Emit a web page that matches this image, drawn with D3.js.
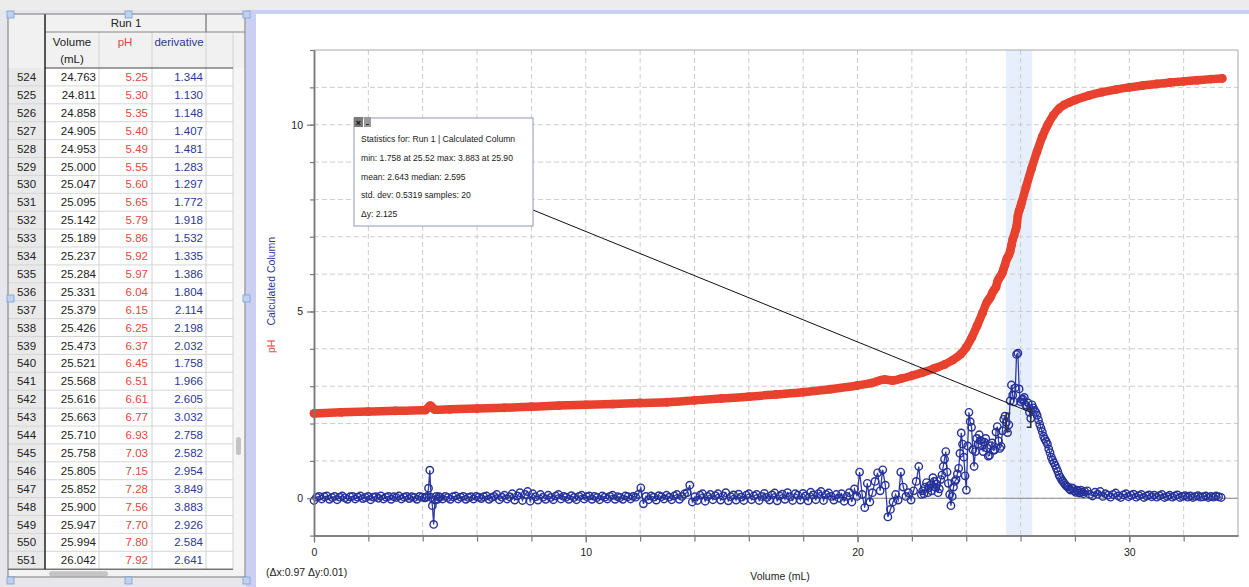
<!DOCTYPE html>
<html>
<head>
<meta charset="utf-8">
<script src="https://cdn.jsdelivr.net/npm/d3@7"></script>
<style>
  html, body { margin: 0; padding: 0; background: #ececec; }
  svg { display: block; font-family: "Liberation Sans", Arial, Helvetica, sans-serif; }
</style>
</head>
<body>
<svg id="chart" width="1249" height="587"></svg>
<script>
// ---------------- data ----------------
// Every sample is one drop: sample n sits at (n - 1) * DROP_VOLUME mL.
const DROP_VOLUME = 0.047348;

// Rows shown in the data table (Run 1)
const tableFirstRow = 524;
const tableVolume = [24.763, 24.811, 24.858, 24.905, 24.953, 25.000, 25.047, 25.095, 25.142, 25.189,
  25.237, 25.284, 25.331, 25.379, 25.426, 25.473, 25.521, 25.568, 25.616, 25.663,
  25.710, 25.758, 25.805, 25.852, 25.900, 25.947, 25.994, 26.042];
const tablePH = [5.25, 5.30, 5.35, 5.40, 5.49, 5.55, 5.60, 5.65, 5.79, 5.86,
  5.92, 5.97, 6.04, 6.15, 6.25, 6.37, 6.45, 6.51, 6.61, 6.77,
  6.93, 7.03, 7.15, 7.28, 7.56, 7.70, 7.80, 7.92];
const tableDerivative = [1.344, 1.130, 1.148, 1.407, 1.481, 1.283, 1.297, 1.772, 1.918, 1.532,
  1.335, 1.386, 1.804, 2.114, 2.198, 2.032, 1.758, 1.966, 2.605, 3.032,
  2.758, 2.582, 2.954, 3.849, 3.883, 2.926, 2.584, 2.641];

// pH before and after the tabulated rows
const phBeforeVolume = [0, 1, 2, 3, 4.1, 4.28, 4.45, 5, 6, 7, 8, 9, 10, 11, 12, 13, 14, 15, 16, 17,
  18, 19, 20, 20.5, 21.0, 21.3, 21.6, 22.0, 22.4, 22.8, 23.2, 23.5, 23.8, 24.0, 24.2, 24.4, 24.6];
const phBeforeValue = [2.27, 2.30, 2.32, 2.34, 2.36, 2.48, 2.37, 2.38, 2.40, 2.42, 2.45, 2.48, 2.50, 2.52, 2.55, 2.57, 2.62, 2.67, 2.72, 2.78,
  2.84, 2.92, 3.02, 3.08, 3.18, 3.15, 3.20, 3.28, 3.37, 3.47, 3.58, 3.70, 3.86, 4.04, 4.30, 4.62, 4.96];
const phAfterVolume = [26.2, 26.4, 26.6, 26.8, 27.0, 27.2, 27.4, 27.6, 27.8, 28.0, 28.5, 29.0, 29.5,
  30.0, 30.5, 31.0, 31.5, 32.0, 32.5, 33.0, 33.42];
const phAfterValue = [8.33, 8.82, 9.27, 9.68, 10.0, 10.25, 10.42, 10.53, 10.60, 10.66, 10.78, 10.87, 10.94,
  11.0, 11.05, 11.09, 11.13, 11.16, 11.19, 11.22, 11.24];

// Calculated Column (derivative) runs: first sample row, row stride, values
const derivLeadInRow = 1, derivLeadInStride = 2;
const derivLeadIn = [-0.06, 0.03, 0.05, -0.02, 0.04, 0.06, -0.03, 0.02, 0.05, -0.04,
  0.03, 0.06, 0.01, -0.03, 0.04, 0.05, -0.02, 0.03, 0.06, -0.01,
  0.02, 0.05, -0.04, 0.03, 0.04, 0.00, 0.06, -0.02, 0.03, 0.05,
  -0.03, 0.04, 0.02, 0.06, -0.02, 0.03, 0.05, -0.01, 0.04, 0.02,
  -0.03, 0.05, 0.03, 0.01];
const derivBlipRow = 88, derivBlipStride = 1;
const derivBlip = [0.02, 0.05, 0.27, 0.75, 0.02, -0.20, -0.70, -0.05, 0.05, -0.03, 0.04];
const derivPlateauRow = 99, derivPlateauStride = 2;
const derivPlateau = [0.03, -0.02, 0.05, 0.02, -0.03, 0.04, 0.06, -0.02, 0.03, 0.05,
  -0.03, 0.02, 0.04, -0.02, 0.05, 0.03, -0.01, 0.04, 0.06, -0.03,
  0.02, 0.05, 0.10, -0.04, 0.03, 0.08, -0.02, 0.04, 0.12, -0.05,
  0.06, 0.15, -0.06, 0.10, 0.18, -0.08, 0.12, 0.04, -0.05, 0.10,
  0.03, -0.03, 0.08, 0.02, -0.04, 0.06, 0.10, -0.02, 0.05, 0.03,
  -0.03, 0.07, 0.02, -0.04, 0.05, 0.08, -0.02, 0.04, 0.06, -0.03,
  0.05, 0.02, -0.04, 0.06, 0.03, -0.02, 0.05, 0.08, -0.03, 0.04,
  0.02, -0.03, 0.06, 0.04, -0.02, 0.05, 0.03, 0.10, 0.28, -0.15,
  0.05, -0.04, 0.06, 0.03, -0.05, 0.07, 0.04, -0.02, 0.08, 0.03,
  -0.04, 0.06, 0.10, -0.03, 0.05, 0.12, 0.15, 0.35, -0.10, 0.04,
  -0.06, 0.08, 0.12, -0.08, 0.05, 0.10, -0.04, 0.07, 0.12, -0.05,
  0.06, 0.15, -0.07, 0.04, 0.09, -0.05, 0.11, 0.03, -0.06, 0.08,
  0.12, -0.04, 0.06, 0.10, -0.06, 0.05, 0.13, 0.02, -0.05, 0.09,
  0.14, -0.07, 0.06, 0.11, -0.03, 0.15, 0.04, -0.06, 0.12, 0.08,
  -0.05, 0.13, 0.06, -0.07, 0.16, 0.09, -0.04, 0.12, 0.18, -0.06, 0.10, 0.14];
const derivOnsetRow = 403, derivOnsetStride = 2;
const derivOnset = [0.05, -0.05, 0.10, 0.00, 0.12, -0.08, 0.05, 0.15, -0.10, 0.25,
  0.05, 0.70, 0.10, -0.25, 0.40, -0.10, 0.15, 0.45, 0.68, 0.20,
  0.76, 0.35, -0.50, -0.30, -0.10, 0.10, -0.05, 0.70, 0.30, 0.05,
  0.15, -0.05, 0.20, 0.45, 0.85, 0.10];
const derivRiseRow = 474, derivRiseStride = 1;
const derivRise = [0.20, 0.12, 0.30, 0.42, 0.15, 0.28, 0.35, 0.20, 0.55, 0.45,
  0.30, 0.38, 0.15, 0.25, 0.50, 0.62, 0.85, 1.05, 1.25, 0.70,
  0.40, 0.10, -0.20, 0.05, 0.30, 0.45, 0.50, 0.65, 0.80, 1.20,
  1.75, 1.45, 1.10, 0.60, 0.22, 1.40, 2.30, 2.05, 1.90, 1.30,
  0.85, 1.25, 1.60, 1.45, 1.70, 1.55, 1.40, 1.25, 1.50, 1.60];
const derivPeakTailRow = 552, derivPeakTailStride = 1;
const derivPeakTail = [2.65, 2.70, 2.50, 2.45, 2.55, 2.30, 2.14];
const derivFallRow = 559, derivFallStride = 1;
const derivFall = [2.50, 2.42, 2.35, 2.30, 2.22, 2.10, 1.98, 1.88, 1.78, 1.66,
  1.58, 1.52, 1.45, 1.32, 1.22, 1.10, 1.02, 0.95, 0.88, 0.80,
  0.72, 0.62, 0.56, 0.50, 0.45, 0.40, 0.36, 0.32, 0.30, 0.25,
  0.22, 0.28, 0.26, 0.20, 0.16, 0.22, 0.19, 0.14, 0.22, 0.17,
  0.12, 0.18];
const derivTailRow = 602, derivTailStride = 2;
const derivTail = [0.20, 0.10, 0.06, 0.16, 0.11, 0.18, 0.05, 0.12, 0.08, 0.03,
  0.10, 0.14, 0.06, 0.02, 0.09, 0.12, 0.04, 0.08, 0.11, 0.03,
  0.07, 0.10, 0.02, 0.06, 0.09, 0.04, 0.08, 0.03, 0.07, 0.10,
  0.02, 0.05, 0.08, 0.03, 0.06, 0.09, 0.02, 0.05, 0.07, 0.03,
  0.06, 0.02, 0.05, 0.07, 0.03, 0.04, 0.06, 0.02, 0.05, 0.03,
  0.06, 0.04, 0.02];

// Examined region (statistics selection)
const selectionVolume = [25.46, 26.43];
const selectionFirst = [25.473, 2.032];
const selectionLast = [26.374, 2.14];

// Tick labels
const xTickLabels = [0, 10, 20, 30];
const yTickLabels = [0, 5, 10];

const statsLines = [
  "Statistics for: Run 1 | Calculated Column",
  "min: 1.758 at 25.52 max: 3.883 at 25.90",
  "mean: 2.643 median: 2.595",
  "std. dev: 0.5319 samples: 20",
  "\u0394y: 2.125"
];

// ---------------- assemble series ----------------
function runPoints(firstRow, stride, values) {
  return values.map((v, i) => [(firstRow - 1 + i * stride) * DROP_VOLUME, v]);
}
const derivPoints = [
  ...runPoints(derivLeadInRow, derivLeadInStride, derivLeadIn),
  ...runPoints(derivBlipRow, derivBlipStride, derivBlip),
  ...runPoints(derivPlateauRow, derivPlateauStride, derivPlateau),
  ...runPoints(derivOnsetRow, derivOnsetStride, derivOnset),
  ...runPoints(derivRiseRow, derivRiseStride, derivRise),
  ...tableVolume.map((v, i) => [v, tableDerivative[i]]),
  ...runPoints(derivPeakTailRow, derivPeakTailStride, derivPeakTail),
  ...runPoints(derivFallRow, derivFallStride, derivFall),
  ...runPoints(derivTailRow, derivTailStride, derivTail)
];
const phPoints = [
  ...phBeforeVolume.map((v, i) => [v, phBeforeValue[i]]),
  ...tableVolume.map((v, i) => [v, tablePH[i]]),
  ...phAfterVolume.map((v, i) => [v, phAfterValue[i]])
];

// ---------------- drawing ----------------
const svg = d3.select("#chart");
const RED = "#e8412e", BLUE = "#25319a";

// window chrome
svg.append("rect").attr("x", 0).attr("y", 0).attr("width", 1249).attr("height", 587).attr("fill", "#ececec");
svg.append("rect").attr("x", 0).attr("y", 10).attr("width", 246).attr("height", 577).attr("fill", "#e6e6ec");
svg.append("rect").attr("x", 246).attr("y", 10).attr("width", 1003).attr("height", 4).attr("fill", "#cbcff3");
svg.append("rect").attr("x", 246).attr("y", 10).attr("width", 10).attr("height", 577).attr("fill", "#cbcff3");
svg.append("rect").attr("x", 256).attr("y", 14).attr("width", 993).attr("height", 573).attr("fill", "#ffffff");

// ---------- data table ----------
const tbl = svg.append("g");
const headTop = 14, headMid = 32, bodyTop = 68, rowH = 17.9;
const bodyBottom = bodyTop + rowH * tableVolume.length;

tbl.append("rect").attr("x", 8).attr("y", headTop).attr("width", 237).attr("height", bodyTop - headTop).attr("fill", "#f1f1f1");
tbl.append("rect").attr("x", 8).attr("y", bodyTop).attr("width", 37).attr("height", bodyBottom - bodyTop).attr("fill", "#e9e9e9");
tbl.append("rect").attr("x", 45).attr("y", bodyTop).attr("width", 188).attr("height", bodyBottom - bodyTop).attr("fill", "#ffffff");
tbl.append("rect").attr("x", 233).attr("y", bodyTop).attr("width", 12).attr("height", bodyBottom - bodyTop).attr("fill", "#f6f6f6");
tbl.append("rect").attr("x", 236).attr("y", 437).attr("width", 5).attr("height", 18).attr("rx", 2.5).attr("fill", "#c4c4c4");
// horizontal scroller
tbl.append("rect").attr("x", 8).attr("y", bodyBottom).attr("width", 237).attr("height", 9).attr("fill", "#f3f3f3");
tbl.append("rect").attr("x", 49).attr("y", bodyBottom + 2).attr("width", 59).attr("height", 5).attr("rx", 2.5).attr("fill", "#c4c4c4");

// row lines
tableVolume.forEach((_, i) => {
  const yy = bodyTop + rowH * (i + 1);
  tbl.append("line").attr("x1", 8).attr("x2", 233).attr("y1", yy).attr("y2", yy)
    .attr("stroke", "#d6d6d6").attr("stroke-width", 1);
});
// column lines
[99, 152, 206, 233].forEach(cx => {
  tbl.append("line").attr("x1", cx).attr("x2", cx).attr("y1", headMid).attr("y2", bodyBottom)
    .attr("stroke", "#d2d2d2");
});
tbl.append("line").attr("x1", 206).attr("x2", 206).attr("y1", headTop).attr("y2", headMid).attr("stroke", "#555");
tbl.append("line").attr("x1", 45).attr("x2", 245).attr("y1", headMid).attr("y2", headMid).attr("stroke", "#888");
tbl.append("line").attr("x1", 45).attr("x2", 233).attr("y1", bodyTop).attr("y2", bodyTop).attr("stroke", "#444");
tbl.append("line").attr("x1", 8).attr("x2", 233).attr("y1", bodyBottom).attr("y2", bodyBottom).attr("stroke", "#444");
tbl.append("line").attr("x1", 45).attr("x2", 45).attr("y1", headTop).attr("y2", bodyBottom).attr("stroke", "#222").attr("stroke-width", 1.5);
tbl.append("rect").attr("x", 8).attr("y", headTop).attr("width", 237).attr("height", 563)
  .attr("fill", "none").attr("stroke", "#777");

const tfont = 11.5;
tbl.append("text").attr("x", 126).attr("y", 27).attr("text-anchor", "middle").attr("font-size", tfont).attr("fill", "#222").text("Run 1");
tbl.append("text").attr("x", 72).attr("y", 46).attr("text-anchor", "middle").attr("font-size", tfont).attr("fill", "#222").text("Volume");
tbl.append("text").attr("x", 72).attr("y", 63).attr("text-anchor", "middle").attr("font-size", tfont).attr("fill", "#222").text("(mL)");
tbl.append("text").attr("x", 125).attr("y", 46).attr("text-anchor", "middle").attr("font-size", tfont).attr("fill", "#e2463c").text("pH");
tbl.append("text").attr("x", 179).attr("y", 46).attr("text-anchor", "middle").attr("font-size", tfont).attr("fill", "#2d3792").text("derivative");

tableVolume.forEach((v, i) => {
  const base = bodyTop + rowH * i + 13;
  tbl.append("text").attr("x", 26.5).attr("y", base).attr("text-anchor", "middle").attr("font-size", tfont).attr("fill", "#222").text(tableFirstRow + i);
  tbl.append("text").attr("x", 96).attr("y", base).attr("text-anchor", "end").attr("font-size", tfont).attr("fill", "#222").text(v.toFixed(3));
  tbl.append("text").attr("x", 148).attr("y", base).attr("text-anchor", "end").attr("font-size", tfont).attr("fill", "#e2463c").text(tablePH[i].toFixed(2));
  tbl.append("text").attr("x", 203).attr("y", base).attr("text-anchor", "end").attr("font-size", tfont).attr("fill", "#2d3792").text(tableDerivative[i].toFixed(3));
});

// selection handles of the table object
[[7, 11], [125, 11], [243, 11], [7, 295], [243, 295], [7, 577], [125, 577], [243, 577]].forEach(([hx, hy]) => {
  svg.append("rect").attr("x", hx).attr("y", hy).attr("width", 7).attr("height", 7)
    .attr("fill", "#bed3f1").attr("stroke", "#7f9dd0").attr("stroke-width", 0.8);
});

// ---------- graph ----------
const x = d3.scaleLinear().domain([0, 34]).range([314, 1238]);
const y = d3.scaleLinear().domain([-1, 12]).range([535.6, 50]);
const [x0, x1] = x.range();
const [yb, yt] = y.range();

const g = svg.append("g");

// examined region band
g.append("rect").attr("x", x(selectionVolume[0])).attr("y", yt)
  .attr("width", x(selectionVolume[1]) - x(selectionVolume[0])).attr("height", yb - yt)
  .attr("fill", "#e7effc");

// dashed grid
g.append("g").selectAll("line").data(d3.range(2, 34, 2)).join("line")
  .attr("x1", d => x(d)).attr("x2", d => x(d)).attr("y1", yt).attr("y2", yb)
  .attr("stroke", "#cdcdcd").attr("stroke-dasharray", "5,3");
g.append("g").selectAll("line").data(d3.range(0, 12, 1)).join("line")
  .attr("x1", x0).attr("x2", x1).attr("y1", d => y(d)).attr("y2", d => y(d))
  .attr("stroke", "#cdcdcd").attr("stroke-dasharray", "5,3");

// zero line and frame
g.append("line").attr("x1", x0).attr("x2", x1).attr("y1", y(0)).attr("y2", y(0)).attr("stroke", "#8a8a8a").attr("stroke-width", 1.2);
g.append("line").attr("x1", x0).attr("x2", x1).attr("y1", yt).attr("y2", yt).attr("stroke", "#a8a8a8");
g.append("line").attr("x1", x1).attr("x2", x1).attr("y1", yt).attr("y2", yb).attr("stroke", "#a8a8a8");

// axes
const axisFont = 10.5;
const xAxisMinor = d3.axisBottom(x).tickValues(d3.range(0, 34, 2)).tickSize(6).tickSizeOuter(0).tickFormat("");
const xAxisMajor = d3.axisBottom(x).tickValues(xTickLabels).tickSize(7).tickSizeOuter(0).tickPadding(6);
const yAxisMinor = d3.axisLeft(y).tickValues(d3.range(-1, 13, 1)).tickSize(4).tickSizeOuter(0).tickFormat("");
const yAxisMajor = d3.axisLeft(y).tickValues(yTickLabels).tickSize(7).tickSizeOuter(0).tickPadding(4);

function styleAxis(sel) {
  sel.select(".domain").attr("stroke", "#7a7a7a").attr("stroke-width", 1.5);
  sel.selectAll(".tick line").attr("stroke", "#7a7a7a").attr("stroke-width", 1.2);
  sel.selectAll(".tick text").attr("fill", "#222").attr("font-size", axisFont)
    .attr("font-family", "'Liberation Sans', Arial, sans-serif");
}
svg.append("g").attr("transform", `translate(0,${yb})`).call(xAxisMinor).call(styleAxis);
svg.append("g").attr("transform", `translate(0,${yb})`).call(xAxisMajor).call(styleAxis);
svg.append("g").attr("transform", `translate(${x0},0)`).call(yAxisMinor).call(styleAxis);
svg.append("g").attr("transform", `translate(${x0},0)`).call(yAxisMajor).call(styleAxis);

// pH curve
const phLine = d3.line().x(d => x(d[0])).y(d => y(d[1])).curve(d3.curveMonotoneX);
g.append("path").datum(phPoints).attr("d", phLine)
  .attr("fill", "none").attr("stroke", RED).attr("stroke-width", 8.5)
  .attr("stroke-linecap", "round").attr("stroke-linejoin", "round");
g.append("g").selectAll("circle").data(phPoints).join("circle")
  .attr("cx", d => x(d[0])).attr("cy", d => y(d[1])).attr("r", 4.4).attr("fill", RED);

// derivative curve
const derivLine = d3.line().x(d => x(d[0])).y(d => y(d[1]));
g.append("path").datum(derivPoints).attr("d", derivLine)
  .attr("fill", "none").attr("stroke", "#2f3ca6").attr("stroke-width", 1.3);
g.append("g").selectAll("circle").data(derivPoints).join("circle")
  .attr("cx", d => x(d[0])).attr("cy", d => y(d[1])).attr("r", 3.7)
  .attr("fill", "none").attr("stroke", BLUE).attr("stroke-width", 1.4);

// selection brackets
function bracket(px, py, dir) {
  const bx = x(px), by = y(py);
  const w = 4 * dir;
  g.append("path").attr("d", `M${bx + w},${by - 9}H${bx}V${by + 9}H${bx + w}`)
    .attr("fill", "none").attr("stroke", "#333").attr("stroke-width", 1.6);
}
bracket(selectionFirst[0], selectionFirst[1], 1);
bracket(selectionLast[0], selectionLast[1], -1);

// statistics box and its leader
const box = { x: 354, y: 118, w: 179, h: 108 };
svg.append("line").attr("x1", box.x + box.w).attr("y1", 210)
  .attr("x2", x(selectionLast[0])).attr("y2", y(selectionLast[1]) - 6)
  .attr("stroke", "#111").attr("stroke-width", 1);
svg.append("rect").attr("x", box.x).attr("y", box.y).attr("width", box.w).attr("height", box.h)
  .attr("fill", "#ffffff").attr("stroke", "#8f95c2");
svg.append("rect").attr("x", box.x).attr("y", box.y - 1).attr("width", 9).attr("height", 10).attr("fill", "#7a7a7a");
svg.append("text").attr("x", box.x + 4.5).attr("y", box.y + 7.5).attr("text-anchor", "middle")
  .attr("font-size", 9).attr("font-weight", "bold").attr("fill", "#111").text("\u00d7");
svg.append("rect").attr("x", box.x + 10).attr("y", box.y - 1).attr("width", 7).attr("height", 10).attr("fill", "#9a9a9a");
svg.append("rect").attr("x", box.x + 12).attr("y", box.y + 6).attr("width", 3).attr("height", 1).attr("fill", "#222");
statsLines.forEach((t, i) => {
  svg.append("text").attr("x", 361).attr("y", 142 + i * 18.8).attr("font-size", 8.6).attr("fill", "#222").text(t);
});

// axis titles
const yTitle = svg.append("text").attr("transform", "translate(275,353) rotate(-90)").attr("font-size", 10.5);
yTitle.append("tspan").attr("fill", "#e2463c").text("pH");
yTitle.append("tspan").attr("dx", 14).attr("fill", "#2d3792").text("Calculated Column");

svg.append("text").attr("x", 780).attr("y", 580).attr("text-anchor", "middle").attr("font-size", 10.5).attr("fill", "#222").text("Volume (mL)");
svg.append("text").attr("x", 266).attr("y", 576).attr("font-size", 10.5).attr("fill", "#222").text("(\u0394x:0.97 \u0394y:0.01)");
</script>
</body>
</html>
